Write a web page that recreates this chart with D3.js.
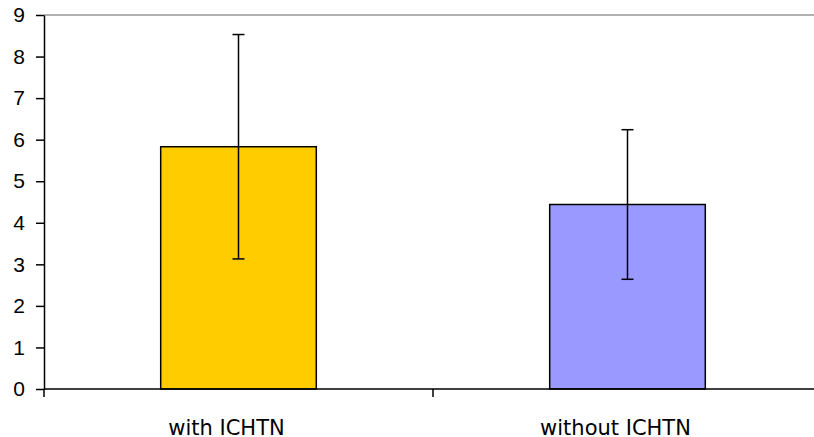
<!DOCTYPE html>
<html><head><meta charset="utf-8">
<script src="https://cdn.jsdelivr.net/npm/d3@7"></script>
<style>body{margin:0;background:#fff}svg{display:block}</style>
</head><body>
<svg id="c" width="814" height="437"></svg>
<script>
const categories = ["with ICHTN", "without ICHTN"];
const means = [5.83, 4.44];
const errors = [2.7, 1.8];
const colors = ["#FFCC00", "#9999FF"];
const yTicks = [0,1,2,3,4,5,6,7,8,9];

const svg = d3.select("#c");
const L = 44, R = 822, T = 15, B = 389;
const x = d3.scaleBand().domain(categories).range([L, R]).paddingInner(0).paddingOuter(0);
const y = d3.scaleLinear().domain([0, 9]).range([B, T]);
const bw = x.bandwidth() * 0.4;

// top gridline
svg.append("line").attr("x1", L).attr("x2", R).attr("y1", y(9)).attr("y2", y(9))
  .attr("stroke", "#999").attr("stroke-width", 1.5);

// bars
categories.forEach((c, i) => {
  const cx = x(c) + x.bandwidth() / 2;
  svg.append("rect").attr("x", cx - bw / 2).attr("y", y(means[i]))
    .attr("width", bw).attr("height", y(0) - y(means[i]))
    .attr("fill", colors[i]).attr("stroke", "#000").attr("stroke-width", 1.5);
});

// error bars
categories.forEach((c, i) => {
  const cx = x(c) + x.bandwidth() / 2;
  const g = svg.append("g").attr("stroke", "#000").attr("stroke-width", 1.5);
  const hi = y(means[i] + errors[i]), lo = y(means[i] - errors[i]);
  g.append("line").attr("x1", cx).attr("x2", cx).attr("y1", hi).attr("y2", lo);
  g.append("line").attr("x1", cx - 6).attr("x2", cx + 6).attr("y1", hi).attr("y2", hi);
  g.append("line").attr("x1", cx - 6).attr("x2", cx + 6).attr("y1", lo).attr("y2", lo);
});

// y axis
const ya = svg.append("g").attr("transform", `translate(${L},0)`)
  .call(d3.axisLeft(y).tickValues(yTicks).tickFormat(d3.format("d")).tickSize(8).tickPadding(11).tickSizeOuter(0));
ya.select(".domain").attr("stroke", "#000").attr("stroke-width", 1.5);
ya.selectAll(".tick line").attr("stroke", "#000").attr("stroke-width", 1.5);
ya.selectAll(".tick text").attr("font-family", "Arial, 'Liberation Sans', sans-serif")
  .attr("font-size", 21).attr("fill", "#000");

// x axis
const xa = svg.append("g").attr("transform", `translate(0,${B})`);
xa.append("line").attr("x1", L).attr("x2", R).attr("stroke", "#000").attr("stroke-width", 1.5);
const bounds = categories.map(c => x(c)).concat([R]);
xa.selectAll("line.t").data(bounds).enter().append("line").attr("class", "t")
  .attr("x1", d => d).attr("x2", d => d).attr("y1", 0).attr("y2", 8)
  .attr("stroke", "#000").attr("stroke-width", 1.5);
xa.selectAll("text").data(categories).enter().append("text")
  .attr("x", d => x(d) + x.bandwidth() / 2 - 12).attr("y", 46)
  .attr("text-anchor", "middle")
  .attr("font-family", "'DejaVu Sans', Verdana, sans-serif").attr("font-size", 21)
  .attr("fill", "#000").text(d => d);
</script>
</body></html>
